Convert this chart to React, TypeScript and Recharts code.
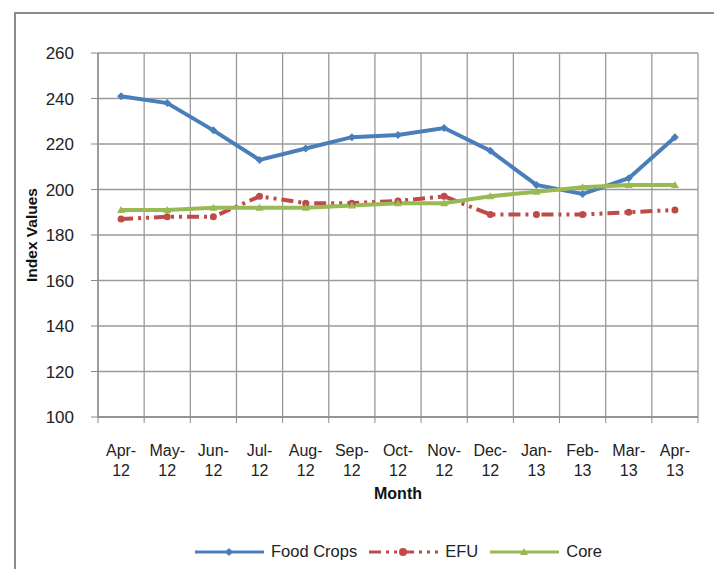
import React from "react";
import {
  LineChart,
  Line,
  XAxis,
  YAxis,
  CartesianGrid,
} from "recharts";

const months = [
  "Apr-12", "May-12", "Jun-12", "Jul-12", "Aug-12", "Sep-12", "Oct-12",
  "Nov-12", "Dec-12", "Jan-13", "Feb-13", "Mar-13", "Apr-13",
];
const foodCrops = [241, 238, 226, 213, 218, 223, 224, 227, 217, 202, 198, 205, 223];
const efu = [187, 188, 188, 197, 194, 194, 195, 197, 189, 189, 189, 190, 191];
const core = [191, 191, 192, 192, 192, 193, 194, 194, 197, 199, 201, 202, 202];
const yTicks = [100, 120, 140, 160, 180, 200, 220, 240, 260];

const data = months.map((m, i) => ({
  month: m,
  food: foodCrops[i],
  efu: efu[i],
  core: core[i],
}));

const FONT = "'Liberation Sans', Arial, sans-serif";
const AXIS = "#8a8a8a";
const BLUE = "#4a7ebb";
const RED = "#be4b48";
const GREEN = "#98b954";
const EFU_DASH = "12 5 3 5 3 5";

const MonthTick = (props: any) => {
  const { x, y, payload } = props;
  const [a, b] = String(payload.value).split("-");
  const half = payload.offset || 0;
  return (
    <g>
      <line x1={x - half} x2={x - half} y1={y - 6} y2={y} stroke={AXIS} />
      {payload.index === months.length - 1 && (
        <line x1={x + half} x2={x + half} y1={y - 6} y2={y} stroke={AXIS} />
      )}
      <text x={x} y={y} textAnchor="middle" fill="#222" fontSize={16} fontFamily={FONT}>
        <tspan x={x} dy={33}>{a}-</tspan>
        <tspan x={x} dy={20}>{b}</tspan>
      </text>
    </g>
  );
};

// y tick numbers sit a bit further out from the axis, like the Excel original
const ValueTick = (props: any) => {
  const { x, y, payload } = props;
  return (
    <text x={x - 15} y={y} dy={6} textAnchor="end" fill="#222" fontSize={17} fontFamily={FONT}>
      {payload.value}
    </text>
  );
};

const Diamond = (props: any) => {
  const { cx, cy } = props;
  return <path d={`M${cx},${cy - 4}L${cx + 4},${cy}L${cx},${cy + 4}L${cx - 4},${cy}Z`} fill={BLUE} />;
};
const Dot = (props: any) => {
  const { cx, cy } = props;
  return <circle cx={cx} cy={cy} r={3.5} fill={RED} />;
};
const Tri = (props: any) => {
  const { cx, cy } = props;
  return <path d={`M${cx},${cy - 4}L${cx + 4},${cy + 3}L${cx - 4},${cy + 3}Z`} fill={GREEN} />;
};

const legendItems = [
  { name: "Food Crops", color: BLUE, dash: undefined, marker: "diamond" },
  { name: "EFU", color: RED, dash: EFU_DASH, marker: "dot" },
  { name: "Core", color: GREEN, dash: undefined, marker: "tri" },
];

const LegendBox = () => (
  <div
    style={{
      position: "absolute",
      left: 195,
      top: 542,
      display: "flex",
      fontFamily: FONT,
      fontSize: 16.5,
      color: "#222",
      whiteSpace: "nowrap",
    }}
  >
    {legendItems.map((it) => (
      <div key={it.name} style={{ display: "flex", alignItems: "center", marginRight: 12 }}>
        <svg width={69} height={12} style={{ marginRight: 7 }}>
          <line x1={0} x2={69} y1={6} y2={6} stroke={it.color} strokeWidth={3} strokeDasharray={it.dash} />
          {it.marker === "diamond" && <path d="M34,2L38,6L34,10L30,6Z" fill={it.color} />}
          {it.marker === "dot" && <circle cx={34} cy={6} r={4} fill={it.color} />}
          {it.marker === "tri" && <path d="M34,2L38,9L30,9Z" fill={it.color} />}
        </svg>
        <span>{it.name}</span>
      </div>
    ))}
  </div>
);

export default function App() {
  return (
    <div style={{ position: "absolute", left: 0, top: 0, width: 714, height: 569, overflow: "hidden", background: "#fff" }}>
      <div
        style={{
          position: "absolute",
          left: 14,
          top: 12,
          width: 800,
          height: 700,
          border: "2px solid #8c8c8c",
        }}
      />
      <LineChart
        width={714}
        height={569}
        data={data}
        margin={{ top: 53, right: 16, bottom: 62, left: 0 }}
        style={{ position: "absolute", left: 0, top: 0 }}
      >
        <CartesianGrid
          stroke="#9a9a9a"
          strokeWidth={1.3}
          verticalCoordinatesGenerator={({ offset }: any) =>
            months.map((_, i) => offset.left + (i * offset.width) / months.length).concat(offset.left + offset.width)
          }
        />
        <XAxis
          dataKey="month"
          scale="band"
          interval={0}
          height={90}
          axisLine={{ stroke: AXIS, strokeWidth: 1.3 }}
          tickLine={false}
          tickMargin={0}
          tickSize={6}
          tick={<MonthTick />}
          label={{
            value: "Month",
            position: "insideBottom",
            offset: 8,
            style: { fontFamily: FONT, fontSize: 16, fontWeight: "bold", fill: "#111" },
          }}
        />
        <YAxis
          domain={[100, 260]}
          ticks={yTicks}
          interval={0}
          width={98}
          axisLine={{ stroke: AXIS, strokeWidth: 1.3 }}
          tickLine={{ stroke: AXIS }}
          tickSize={7}
          tick={<ValueTick />}
          label={{
            value: "Index Values",
            angle: -90,
            position: "insideLeft",
            offset: 31,
            style: { fontFamily: FONT, fontSize: 15.5, fontWeight: "bold", fill: "#111", textAnchor: "middle" },
          }}
        />
        <Line
          dataKey="efu"
          name="EFU"
          stroke={RED}
          strokeWidth={4}
          strokeDasharray={EFU_DASH}
          dot={<Dot />}
          activeDot={false}
          isAnimationActive={false}
        />
        <Line
          dataKey="food"
          name="Food Crops"
          stroke={BLUE}
          strokeWidth={4}
          dot={<Diamond />}
          activeDot={false}
          isAnimationActive={false}
        />
        <Line
          dataKey="core"
          name="Core"
          stroke={GREEN}
          strokeWidth={4}
          dot={<Tri />}
          activeDot={false}
          isAnimationActive={false}
        />
      </LineChart>
      <LegendBox />
    </div>
  );
}
